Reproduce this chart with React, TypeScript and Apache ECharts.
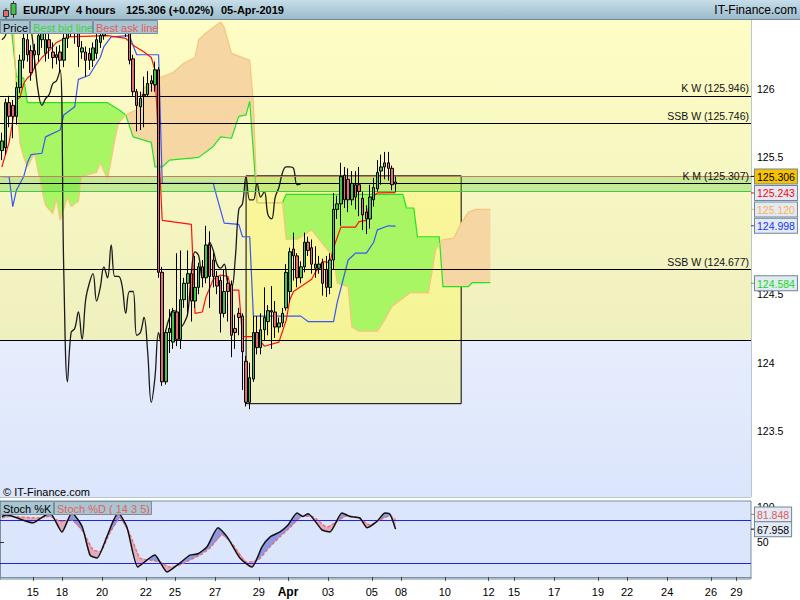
import React, { useEffect, useRef } from 'react';
import * as echarts from 'echarts';

const FONT = "'Liberation Sans', Arial, Helvetica, sans-serif";

// ---------- data ----------
const dateTickPos = [9, 17, 28, 40, 48, 59, 71, 79, 90, 102, 110, 122, 134, 141, 152, 164, 172, 183, 195, 202];
const dateTickText = ['15', '18', '20', '22', '25', '27', '29', 'Apr', '03', '05', '08', '10', '12', '15', '17', '19', '22', '24', '26', '29'];
const priceTickValues = [123.5, 124, 124.5, 125.5, 126];
const stochTickValues = [50, 100];

// [open, close, low, high] per 4-hour candle
const candles: number[][] = [
  [125.55, 125.62, 125.48, 125.68], [125.57, 125.90, 125.52, 125.93], [125.90, 125.80, 125.72, 125.95], [125.88, 125.80, 125.64, 125.92],
  [125.80, 126.01, 125.74, 126.05], [126.01, 126.21, 125.97, 126.25], [126.21, 126.37, 126.15, 126.42], [126.36, 126.25, 126.20, 126.44],
  [126.28, 126.12, 126.06, 126.32], [126.28, 126.25, 126.15, 126.33], [126.25, 126.39, 126.20, 126.46], [126.36, 126.41, 126.30, 126.52],
  [126.26, 126.36, 126.20, 126.45], [126.36, 126.30, 126.22, 126.44], [126.27, 126.23, 126.15, 126.34], [126.23, 126.25, 126.18, 126.31],
  [126.27, 126.21, 126.12, 126.32], [126.21, 126.37, 126.16, 126.44], [126.37, 126.45, 126.30, 126.55], [126.45, 126.48, 126.38, 126.58],
  [126.47, 126.41, 126.33, 126.56], [126.41, 126.31, 126.16, 126.44], [126.27, 126.30, 126.22, 126.35], [126.27, 126.21, 126.09, 126.31],
  [126.26, 126.21, 126.14, 126.30], [126.21, 126.30, 126.16, 126.34], [126.26, 126.36, 126.22, 126.42], [126.34, 126.39, 126.30, 126.47],
  [126.39, 126.52, 126.36, 126.56], [126.45, 126.55, 126.40, 126.62], [126.55, 126.62, 126.48, 126.70], [126.62, 126.54, 126.46, 126.68],
  [126.54, 126.60, 126.48, 126.66], [126.60, 126.52, 126.44, 126.64], [126.52, 126.44, 126.38, 126.56], [126.44, 126.21, 126.18, 126.50],
  [126.22, 125.98, 125.95, 126.25], [125.98, 125.88, 125.69, 126.00], [125.87, 125.93, 125.70, 125.98], [125.95, 125.96, 125.72, 126.09],
  [125.96, 126.04, 125.94, 126.13], [126.04, 126.06, 125.98, 126.10], [126.03, 126.14, 125.98, 126.20], [126.14, 124.66, 124.62, 126.16],
  [124.66, 123.86, 123.83, 124.70], [123.86, 124.22, 123.84, 124.24], [124.22, 124.25, 124.07, 124.39], [124.15, 124.37, 124.10, 124.40],
  [124.37, 124.17, 124.12, 124.80], [124.17, 124.46, 124.10, 124.82], [124.46, 124.58, 124.40, 124.62], [124.58, 124.65, 124.34, 124.82],
  [124.65, 124.45, 124.30, 124.68], [124.45, 124.55, 124.40, 124.78], [124.55, 124.70, 124.50, 124.73], [124.70, 124.62, 124.55, 124.75],
  [124.62, 124.86, 124.58, 125.00], [124.86, 124.63, 124.40, 124.96], [124.75, 124.63, 124.55, 124.80], [124.63, 124.56, 124.50, 124.67],
  [124.60, 124.36, 124.22, 124.63], [124.36, 124.52, 124.33, 124.68], [124.58, 124.52, 124.30, 124.62], [124.57, 124.20, 124.04, 124.60],
  [124.25, 124.22, 124.10, 124.35], [124.36, 124.33, 124.20, 124.40], [124.34, 124.08, 123.80, 124.36], [124.01, 123.71, 123.68, 124.05],
  [123.71, 123.89, 123.66, 124.00], [123.88, 124.22, 123.86, 124.34], [124.22, 124.11, 124.06, 124.34], [124.11, 124.24, 124.06, 124.36],
  [124.24, 124.33, 124.16, 124.55], [124.30, 124.38, 124.20, 124.42], [124.38, 124.37, 124.10, 124.56], [124.37, 124.26, 124.18, 124.45],
  [124.26, 124.29, 124.22, 124.33], [124.29, 124.36, 124.26, 124.40], [124.40, 124.66, 124.38, 124.72], [124.52, 124.81, 124.44, 124.84],
  [124.83, 124.78, 124.60, 124.95], [124.78, 124.62, 124.55, 124.80], [124.62, 124.70, 124.58, 124.74], [124.70, 124.88, 124.66, 124.95],
  [124.88, 124.82, 124.78, 124.92], [124.84, 124.72, 124.65, 124.90], [124.72, 124.69, 124.62, 124.85], [124.69, 124.72, 124.65, 124.78],
  [124.73, 124.58, 124.49, 124.76], [124.68, 124.55, 124.48, 124.78], [124.55, 124.75, 124.50, 124.80], [124.75, 125.12, 124.68, 125.24],
  [125.12, 125.16, 125.05, 125.22], [125.16, 125.36, 125.00, 125.46], [125.37, 125.19, 125.13, 125.43], [125.34, 125.19, 125.10, 125.42],
  [125.19, 125.31, 125.15, 125.40], [125.30, 125.21, 125.12, 125.40], [125.30, 125.25, 125.07, 125.43], [125.20, 125.08, 124.97, 125.25],
  [125.10, 125.05, 124.94, 125.15], [125.05, 125.21, 124.98, 125.30], [125.19, 125.28, 125.14, 125.35], [125.27, 125.39, 125.25, 125.48],
  [125.40, 125.43, 125.30, 125.52], [125.46, 125.43, 125.34, 125.54], [125.46, 125.42, 125.33, 125.54], [125.42, 125.30, 125.26, 125.44],
  [125.32, 125.306, 125.25, 125.36],
];

// [candle index, value]
const tenkan = [
  [0, 125.43], [1, 125.52], [2, 125.61], [4, 125.92], [5, 125.94], [6, 126.04], [7, 126.08], [8, 126.10], [9, 126.16], [11, 126.23],
  [13, 126.28], [15, 126.34], [18, 126.38], [29, 126.39], [34, 126.37], [36, 126.32], [39, 126.27], [41, 126.23], [42, 126.14],
  [44, 125.04], [52, 125.01], [53, 124.36], [55, 124.37], [56, 124.48], [58, 124.61], [60, 124.64], [62, 124.63], [63, 124.53],
  [65, 124.53], [66, 124.19], [70, 124.19], [72, 124.12], [76, 124.15], [78, 124.31], [79, 124.46], [80, 124.52], [85, 124.61],
  [86, 124.66], [88, 124.74], [90, 124.73], [91, 124.84], [93, 124.99], [97, 124.99], [98, 125.03], [100, 125.04], [101, 125.20],
  [103, 125.24], [108, 125.243],
];
const kijun = [
  [0, 125.36], [2, 125.36], [3, 125.14], [4, 125.26], [6, 125.36], [7, 125.46], [8, 125.52], [11, 125.53], [12, 125.65], [16, 125.70],
  [17, 125.81], [20, 125.87], [21, 126.07], [24, 126.10], [27, 126.23], [28, 126.31], [30, 126.38], [35, 126.39], [37, 126.25],
  [43, 126.25], [44, 125.31], [58, 125.31], [59, 125.21], [61, 125.02], [65, 125.01], [66, 124.92], [68, 124.92], [69, 124.34],
  [82, 124.34], [84, 124.30], [91, 124.30], [92, 124.44], [95, 124.75], [97, 124.80], [100, 124.80], [102, 124.88], [103, 124.97],
  [106, 125.00], [108, 124.998],
];
const senkouA = [
  [0, 126.65], [2, 126.60], [4, 126.09], [6, 126.08], [7, 125.90], [29, 125.90], [32, 125.85], [34, 125.81], [36, 125.65], [41, 125.61],
  [42, 125.43], [44, 125.43], [46, 125.48], [54, 125.50], [58, 125.58], [60, 125.65], [63, 125.64], [65, 125.80], [67, 125.81],
  [68, 125.91], [70, 125.17], [77, 125.17], [78, 125.23], [110, 125.23], [111, 125.13], [113, 125.13], [114, 124.92], [120, 124.92],
  [121, 124.555], [128, 124.555], [129, 124.584], [134, 124.584],
];
const senkouB = [
  [0, 126.65], [3, 126.60], [4, 125.95], [5, 125.60], [6, 125.50], [7, 125.43], [9, 125.53], [11, 125.26], [12, 125.15], [14, 125.09],
  [15, 125.20], [16, 125.04], [18, 125.21], [19, 125.14], [21, 125.18], [22, 125.36], [26, 125.39], [27, 125.46], [29, 125.34],
  [30, 125.48], [31, 125.63], [32, 125.75], [34, 125.81], [37, 125.85], [39, 126.01], [43, 126.08], [47, 126.12], [50, 126.19],
  [53, 126.23], [54, 126.36], [56, 126.41], [59, 126.47], [60, 126.49], [61, 126.45], [63, 126.26], [68, 126.21], [69, 125.90],
  [70, 125.17], [77, 125.17], [78, 124.90], [81, 124.90], [85, 124.97], [87, 124.90], [91, 124.77], [92, 124.58], [95, 124.555],
  [96, 124.26], [98, 124.23], [103, 124.23], [105, 124.31], [107, 124.41], [112, 124.51], [117, 124.51], [118, 124.66], [119, 124.825],
  [121, 124.90], [124, 124.91], [126, 125.02], [128, 125.10], [130, 125.12], [134, 125.12],
];
const stochK = [
  [0, 86], [1.4, 88], [8.5, 77], [10.5, 83], [13.2, 91], [16.5, 64], [19.2, 91], [22, 72], [24.2, 31], [26.1, 27], [28.8, 57],
  [30.5, 79], [31.9, 91], [34.3, 71], [37.3, 14], [39.8, 24], [42, 31], [43.4, 21], [45.3, 7], [48.9, 20], [51.6, 31], [53.8, 33],
  [56.3, 43], [59.3, 70], [61.8, 57], [65.3, 27], [68.6, 14], [71.4, 43], [73.6, 57], [76.3, 64], [78.5, 74], [81, 91], [82.6, 86],
  [84, 90], [87.8, 67], [90, 64], [93.3, 91], [95.5, 86], [98.2, 84], [100.2, 70], [102.9, 79], [105.1, 91], [106.5, 89], [108, 67.958],
];
const stochD = [
  [0, 84], [2.2, 86], [9.6, 84], [13.2, 86], [16, 79], [19.2, 81], [22.3, 64], [25, 39], [26.9, 36], [29.7, 63], [32.4, 84],
  [35.2, 60], [37.9, 27], [40.6, 24], [43.4, 21], [46.1, 14], [48.9, 17], [51.6, 24], [54.4, 31], [57.1, 41], [60.4, 60], [63.4, 46],
  [67.2, 21], [70.3, 24], [73.6, 43], [76.3, 57], [79, 70], [82.3, 86], [85.1, 86], [89.2, 71], [91.9, 79], [94.7, 87], [97.7, 84],
  [101, 74], [103.7, 81], [106.5, 87], [108, 81.848],
];

const levelValues = [125.946, 125.746, 125.307, 124.677];
const levelNames = ['K W', 'SSB W', 'K M', 'SSB W'];
const zoneSplit = 124.16;
const quoteBand = [125.252, 125.358];
const rangeBoxCandles = [67, 126];
const rangeBoxPrices = [123.70, 125.365];
const priceTags = [125.306, 125.243, 125.12, 124.998, 124.584];
const stochTags = [81.848, 67.958];
const stochBands = [80, 20];

// ---------- helpers ----------
function interp(arr: number[][], x: number) {
  if (x <= arr[0][0]) return arr[0][1];
  for (let i = 1; i < arr.length; i++) {
    if (x <= arr[i][0]) {
      const [x0, y0] = arr[i - 1];
      const [x1, y1] = arr[i];
      return x1 === x0 ? y1 : y0 + ((y1 - y0) * (x - x0)) / (x1 - x0);
    }
  }
  return arr[arr.length - 1][1];
}

function fillRender(a: number[][], b: number[][], upColor: string, downColor: string) {
  return (_params: any, api: any) => {
    const set = new Set<number>();
    a.forEach((p) => set.add(p[0]));
    b.forEach((p) => set.add(p[0]));
    const lo = Math.max(a[0][0], b[0][0]);
    const hi = Math.min(a[a.length - 1][0], b[b.length - 1][0]);
    const xs = Array.from(set).filter((x) => x >= lo && x <= hi).sort((p, q) => p - q);
    const children: any[] = [];
    let run: number[][] = [];
    let sign = 0;
    const flush = () => {
      if (run.length >= 2) {
        const top = run.map((r) => api.coord([r[0], r[1]]));
        const bot = run.slice().reverse().map((r) => api.coord([r[0], r[2]]));
        children.push({
          type: 'polygon',
          shape: { points: top.concat(bot) },
          style: { fill: sign >= 0 ? upColor : downColor, stroke: null },
        });
      }
    };
    for (const x of xs) {
      const ya = interp(a, x);
      const yb = interp(b, x);
      const s = Math.sign(ya - yb);
      if (run.length && s !== 0 && sign !== 0 && s !== sign) {
        const [px, pa, pb] = run[run.length - 1];
        const d0 = pa - pb;
        const d1 = ya - yb;
        const t = d0 / (d0 - d1);
        const cx = px + t * (x - px);
        const cy = pa + t * (ya - pa);
        run.push([cx, cy, cy]);
        flush();
        run = [[cx, cy, cy]];
        sign = s;
      }
      if (sign === 0 && s !== 0) sign = s;
      run.push([x, ya, yb]);
    }
    flush();
    return { type: 'group', children };
  };
}

const shift = (arr: number[][]) => arr.map((p) => [p[0] + 0.5, p[1]]);

function tagItem(v: number, color: string, bg: string, lift: number, digits: number) {
  return {
    yAxis: v,
    lineStyle: { width: 0, color: 'rgba(0,0,0,0)' },
    label: {
      show: true,
      position: 'end',
      distance: 0,
      formatter: () => (lift ? `{tk| }{bx|${v.toFixed(digits)}}\n{sp| }` : `{tk| }{bx|${v.toFixed(digits)}}`),
      rich: {
        tk: { width: 4, height: 1, backgroundColor: color },
        bx: {
          color,
          backgroundColor: bg,
          borderColor: '#6f8797',
          borderWidth: 1,
          padding: [2, 2, 1, 2],
          fontSize: 10.5,
          fontFamily: FONT,
        },
        sp: { height: lift, fontSize: 1, lineHeight: lift },
      },
    },
  };
}

export default function App() {
  const ref = useRef<HTMLDivElement>(null);

  useEffect(() => {
    const chart = echarts.init(ref.current!, null, { renderer: 'svg' });

    const tk = shift(tenkan);
    const kj = shift(kijun);
    const sa = shift(senkouA);
    const sb = shift(senkouB);
    const sk = shift(stochK);
    const sd = shift(stochD);
    const candleData = candles.map((c, i) => [i + 0.5, c[0], c[1], c[2], c[3]]);
    const chikou = candles.slice(26).map((c, i) => [i + 0.5, c[1]]);

    const grad = (c0: string, c1: string) =>
      new echarts.graphic.LinearGradient(0, 0, 0, 1, [
        { offset: 0, color: c0 },
        { offset: 1, color: c1 },
      ]);

    const tagColors = [
      { color: '#000000', bg: '#f7c300', lift: 14 },
      { color: '#ff0000', bg: '#e3eaf5', lift: 0 },
      { color: '#ffb347', bg: '#e3eaf5', lift: 0 },
      { color: '#2035f0', bg: '#e3eaf5', lift: 0 },
      { color: '#10dd10', bg: '#e3eaf5', lift: 0 },
    ];
    const stochTagColors = [
      { color: '#e05a5a', bg: '#e3eaf5', lift: 10 },
      { color: '#000000', bg: '#e3eaf5', lift: 0 },
    ];

    const legendBox = (x: number, y: number, w: number, text: string, color: string) => [
      {
        type: 'rect',
        shape: { x: x + 0.5, y: y + 0.5, width: w, height: 13 },
        style: { fill: '#a9c5d1', stroke: '#7890a0', lineWidth: 1 },
        z: 100,
        silent: true,
      },
      {
        type: 'text',
        x: x + 3,
        y: y + 7.5,
        style: { text, fill: color, font: `11px ${FONT}`, textVerticalAlign: 'middle' },
        z: 101,
        silent: true,
      },
    ];

    const headerText = (x: number, text: string) => ({
      type: 'text',
      x,
      y: 10,
      style: { text, fill: '#000', font: `bold 11px ${FONT}`, textVerticalAlign: 'middle' },
      z: 101,
      silent: true,
    });

    const option: any = {
      animation: false,
      backgroundColor: '#ffffff',
      textStyle: { fontFamily: FONT },
      grid: [
        { left: 0, top: 20, width: 751, height: 477, show: true, borderColor: '#7890a0', borderWidth: 1, backgroundColor: 'transparent' },
        { left: 0, top: 501, width: 751, height: 78, show: true, borderColor: '#7890a0', borderWidth: 1, backgroundColor: '#dbe5fc' },
      ],
      xAxis: [
        { type: 'value', gridIndex: 0, min: 0, max: 206, show: false },
        {
          type: 'value',
          gridIndex: 1,
          min: 0,
          max: 206,
          position: 'bottom',
          axisLine: { show: true, lineStyle: { color: '#7890a0' } },
          axisTick: { show: true, customValues: dateTickPos, length: 4, lineStyle: { color: '#444' } },
          splitLine: { show: false },
          axisLabel: {
            customValues: dateTickPos,
            margin: 7,
            color: '#000',
            fontSize: 11,
            fontFamily: FONT,
            formatter: (v: number) => {
              const k = dateTickPos.indexOf(Math.round(v));
              const t = k >= 0 ? dateTickText[k] : '';
              return t === 'Apr' ? `{b|${t}}` : t;
            },
            rich: { b: { fontWeight: 'bold', fontSize: 12, fontFamily: FONT, color: '#000' } },
          },
        },
      ],
      yAxis: [
        {
          type: 'value',
          gridIndex: 0,
          position: 'right',
          min: 123.018,
          max: 126.504,
          axisLine: { show: true, lineStyle: { color: '#7890a0' } },
          axisTick: { show: true, customValues: priceTickValues, length: 4, lineStyle: { color: '#333' } },
          splitLine: { show: false },
          axisLabel: {
            customValues: priceTickValues,
            margin: 6,
            color: '#000',
            fontSize: 10.5,
            fontFamily: FONT,
            formatter: (v: number) => (Number.isInteger(v) ? String(v) : v.toFixed(1)),
          },
        },
        {
          type: 'value',
          gridIndex: 1,
          position: 'right',
          min: -3,
          max: 108,
          axisLine: { show: true, lineStyle: { color: '#7890a0' } },
          axisTick: { show: true, customValues: stochTickValues, length: 4, lineStyle: { color: '#333' } },
          splitLine: { show: false },
          axisLabel: { customValues: stochTickValues, margin: 6, color: '#000', fontSize: 10.5, fontFamily: FONT },
        },
      ],
      series: [
        // cloud fill
        {
          type: 'custom',
          xAxisIndex: 0,
          yAxisIndex: 0,
          data: [[0, 125]],
          renderItem: fillRender(sa, sb, '#a8f664', '#f6d6a2'),
          clip: true,
          silent: true,
          z: 2,
        },
        {
          type: 'line',
          xAxisIndex: 0,
          yAxisIndex: 0,
          data: sa,
          symbol: 'none',
          lineStyle: { color: '#22e322', width: 1.2 },
          silent: true,
          z: 4,
        },
        {
          type: 'line',
          xAxisIndex: 0,
          yAxisIndex: 0,
          data: sb,
          symbol: 'none',
          lineStyle: { color: '#f7c47e', width: 1.2 },
          silent: true,
          z: 4,
          markArea: {
            silent: true,
            z: 1,
            data: [
              [
                { yAxis: 126.504, itemStyle: { color: grad('#fefdc5', '#eff0bf') } },
                { yAxis: zoneSplit },
              ],
              [
                { yAxis: zoneSplit, itemStyle: { color: grad('#e7edfc', '#dbe5fc') } },
                { yAxis: 123.018 },
              ],
              [
                {
                  xAxis: rangeBoxCandles[0] + 0.5,
                  yAxis: rangeBoxPrices[1],
                  itemStyle: { color: 'rgba(255,250,80,0.36)', borderColor: '#000', borderWidth: 1 },
                },
                { xAxis: rangeBoxCandles[1] + 0.5, yAxis: rangeBoxPrices[0] },
              ],
            ],
          },
        },
        {
          type: 'line',
          xAxisIndex: 0,
          yAxisIndex: 0,
          data: kj,
          symbol: 'none',
          lineStyle: { color: '#3a55f5', width: 1.2 },
          silent: true,
          z: 4,
        },
        {
          type: 'line',
          xAxisIndex: 0,
          yAxisIndex: 0,
          data: tk,
          symbol: 'none',
          lineStyle: { color: '#ff1010', width: 1.2 },
          silent: true,
          z: 4,
          markLine: {
            silent: true,
            symbol: ['none', 'none'],
            z: 5,
            data: [
              ...levelValues.map((v, i) => ({
                yAxis: v,
                lineStyle: { color: '#000', width: 1, type: 'solid' },
                label: {
                  show: true,
                  position: 'insideEndTop',
                  distance: 2,
                  formatter: () => `${levelNames[i]} (${v.toFixed(3)})`,
                  color: '#111',
                  fontSize: 10.5,
                  fontFamily: FONT,
                },
              })),
              { yAxis: zoneSplit, lineStyle: { color: '#000', width: 1, type: 'solid' }, label: { show: false } },
              { yAxis: quoteBand[1], lineStyle: { color: '#c97a6a', width: 1, type: 'solid' }, label: { show: false } },
              { yAxis: quoteBand[0], lineStyle: { color: '#4cc24c', width: 1, type: 'solid' }, label: { show: false } },
            ],
          },
        },
        {
          type: 'line',
          xAxisIndex: 0,
          yAxisIndex: 0,
          data: chikou,
          symbol: 'none',
          smooth: 0.4,
          lineStyle: { color: '#1a1a1a', width: 1.3 },
          silent: true,
          z: 4,
          markArea: {
            silent: true,
            z: 3,
            data: [[{ yAxis: quoteBand[1], itemStyle: { color: 'rgba(96,208,60,0.33)' } }, { yAxis: quoteBand[0] }]],
          },
        },
        {
          type: 'candlestick',
          xAxisIndex: 0,
          yAxisIndex: 0,
          data: candleData,
          barWidth: 3,
          clip: true,
          silent: true,
          z: 6,
          itemStyle: { color: '#44c444', color0: '#e36d6d', borderColor: '#000', borderColor0: '#000', borderWidth: 1 },
          markLine: {
            silent: true,
            symbol: ['none', 'none'],
            z: 7,
            data: priceTags.map((v, i) => tagItem(v, tagColors[i].color, tagColors[i].bg, tagColors[i].lift, 3)),
          },
        },
        // stochastic
        {
          type: 'custom',
          xAxisIndex: 1,
          yAxisIndex: 1,
          data: [[0, 50]],
          renderItem: fillRender(sk, sd, '#8f98e2', '#e2aabd'),
          clip: true,
          silent: true,
          z: 2,
        },
        {
          type: 'line',
          xAxisIndex: 1,
          yAxisIndex: 1,
          data: sd,
          symbol: 'none',
          smooth: 0.2,
          lineStyle: { color: '#ee6a6a', width: 1.3, type: [3, 2] },
          silent: true,
          z: 4,
          markLine: {
            silent: true,
            symbol: ['none', 'none'],
            z: 3,
            data: stochBands.map((v) => ({ yAxis: v, lineStyle: { color: '#2222e0', width: 1, type: 'solid' }, label: { show: false } })),
          },
        },
        {
          type: 'line',
          xAxisIndex: 1,
          yAxisIndex: 1,
          data: sk,
          symbol: 'none',
          smooth: 0.2,
          lineStyle: { color: '#111111', width: 1.5 },
          silent: true,
          z: 5,
          markLine: {
            silent: true,
            symbol: ['none', 'none'],
            z: 7,
            data: stochTags.map((v, i) => tagItem(v, stochTagColors[i].color, stochTagColors[i].bg, stochTagColors[i].lift, 3)),
          },
        },
      ],
      graphic: {
        elements: [
          {
            type: 'rect',
            shape: { x: 0, y: 0, width: 800, height: 20 },
            style: { fill: grad('#c6dee9', '#9ab9c9') },
            z: 100,
            silent: true,
          },
          { type: 'line', shape: { x1: 0, y1: 19.5, x2: 800, y2: 19.5 }, style: { stroke: '#6f8797', lineWidth: 1 }, z: 101, silent: true },
          // header icon
          { type: 'line', shape: { x1: 6, y1: 8, x2: 6, y2: 19 }, style: { stroke: '#333', lineWidth: 1 }, z: 101, silent: true },
          { type: 'rect', shape: { x: 3.5, y: 10.5, width: 5, height: 6 }, style: { fill: '#e36d6d', stroke: '#333', lineWidth: 1 }, z: 102, silent: true },
          { type: 'line', shape: { x1: 13.5, y1: 1, x2: 13.5, y2: 18 }, style: { stroke: '#333', lineWidth: 1 }, z: 101, silent: true },
          { type: 'rect', shape: { x: 11, y: 3.5, width: 5, height: 11 }, style: { fill: '#44c444', stroke: '#333', lineWidth: 1 }, z: 102, silent: true },
          headerText(23, 'EUR/JPY'),
          headerText(76, '4 hours'),
          headerText(126, '125.306 (+0.02%)'),
          headerText(221, '05-Apr-2019'),
          {
            type: 'text',
            x: 797,
            y: 10,
            style: { text: 'IT-Finance.com', fill: '#000', font: `12px ${FONT}`, textAlign: 'right', textVerticalAlign: 'middle' },
            z: 101,
            silent: true,
          },
          ...legendBox(0, 20, 29, 'Price', '#000'),
          ...legendBox(30, 20, 62, 'Best bid line', '#3ed43e'),
          ...legendBox(93, 20, 64, 'Best ask line', '#e55a5a'),
          ...legendBox(0, 501, 53, 'Stoch %K', '#000'),
          ...legendBox(54, 501, 97, 'Stoch %D ( 14 3 5)', '#e56060'),
          {
            type: 'text',
            x: 3,
            y: 492,
            style: { text: '© IT-Finance.com', fill: '#000', font: `11px ${FONT}`, textVerticalAlign: 'middle' },
            z: 101,
            silent: true,
          },
        ],
      },
    };

    chart.setOption(option);
    return () => chart.dispose();
  }, []);

  return (
    <div
      ref={ref}
      style={{ position: 'fixed', left: 0, top: 0, width: 800, height: 600, background: '#ffffff' }}
    />
  );
}
